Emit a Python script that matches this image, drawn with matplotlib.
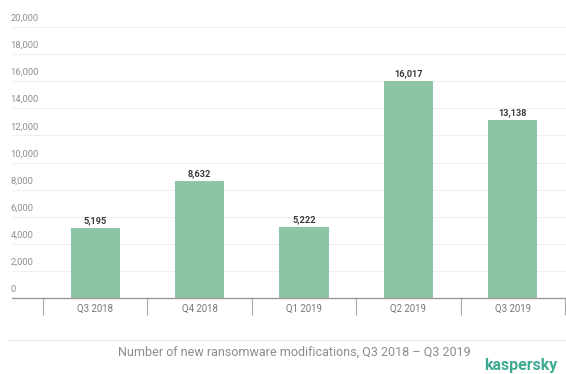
import numpy as np
import matplotlib.pyplot as plt
from matplotlib.lines import Line2D
from matplotlib.transforms import ScaledTranslation

# data
quarters = ['Q3 2018', 'Q4 2018', 'Q1 2019', 'Q2 2019', 'Q3 2019']
modifications = [5195, 8632, 5222, 16017, 13138]
y_ticks = list(range(0, 20001, 2000))

plt.rcParams['font.family'] = ['Roboto', 'DejaVu Sans']

W, H = 566, 374
fig = plt.figure(figsize=(W / 100, H / 100), dpi=100)
# axes box in pixels: left 12, right 566, bottom 298, top 27
ax = fig.add_axes([12 / W, (H - 298) / H, (566 - 12) / W, (298 - 27) / H])

x = np.arange(len(quarters))
bars = ax.bar(x, modifications, width=0.47, color='#8cc4a4', zorder=2)
for b, v in zip(bars, modifications):
    ax.annotate(f'{v:,}', (b.get_x() + b.get_width() / 2, v), xytext=(0, 2),
                textcoords='offset points', ha='center', va='bottom',
                fontsize=6.6, fontweight='bold', color='#3a3a3a')

ax.set_xlim(-0.797, len(quarters) - 0.49)
ax.set_ylim(0, 20000)

# y axis: labels sit left-aligned just above each gridline
ax.set_yticks(y_ticks)
ax.set_yticklabels([f'{t:,}' for t in y_ticks])
ax.tick_params(axis='y', length=0, pad=1, labelsize=6.8, labelcolor='#8f8f8f')
shift = ScaledTranslation(0, 3 / 72, fig.dpi_scale_trans)
for lab in ax.get_yticklabels():
    lab.set_horizontalalignment('left')
    lab.set_verticalalignment('bottom')
    lab.set_transform(lab.get_transform() + shift)
ax.yaxis.grid(True, color='#f0f0f0', linewidth=0.8, zorder=0)

# x axis: category labels with separators between them
ax.set_xticks(x)
ax.set_xticklabels(quarters)
ax.set_xticks(np.arange(-0.5, len(quarters)), minor=True)
ax.tick_params(axis='x', which='major', length=0, pad=4.5, labelsize=6.9,
               labelcolor='#777777')
ax.tick_params(axis='x', which='minor', length=12, width=0.8, color='#aaaaaa',
               direction='out')

for s in ['top', 'right', 'left']:
    ax.spines[s].set_visible(False)
ax.spines['bottom'].set_color('#9a9a9a')
ax.spines['bottom'].set_linewidth(1.0)

# footer
fig.add_artist(Line2D([8 / W, 1.0], [(H - 340) / H] * 2, color='#eeeeee',
                      linewidth=0.8))
fig.text(294 / W, (H - 352) / H,
         'Number of new ransomware modifications, Q3 2018 \u2013 Q3 2019',
         ha='center', va='center', fontsize=9, color='#8c8c8c')
fig.text(557 / W, 1 / H, 'kaspersky', ha='right', va='bottom',
         fontsize=11.5, fontweight='bold', color='#3fa993')

fig.savefig('out.png', dpi=100)
